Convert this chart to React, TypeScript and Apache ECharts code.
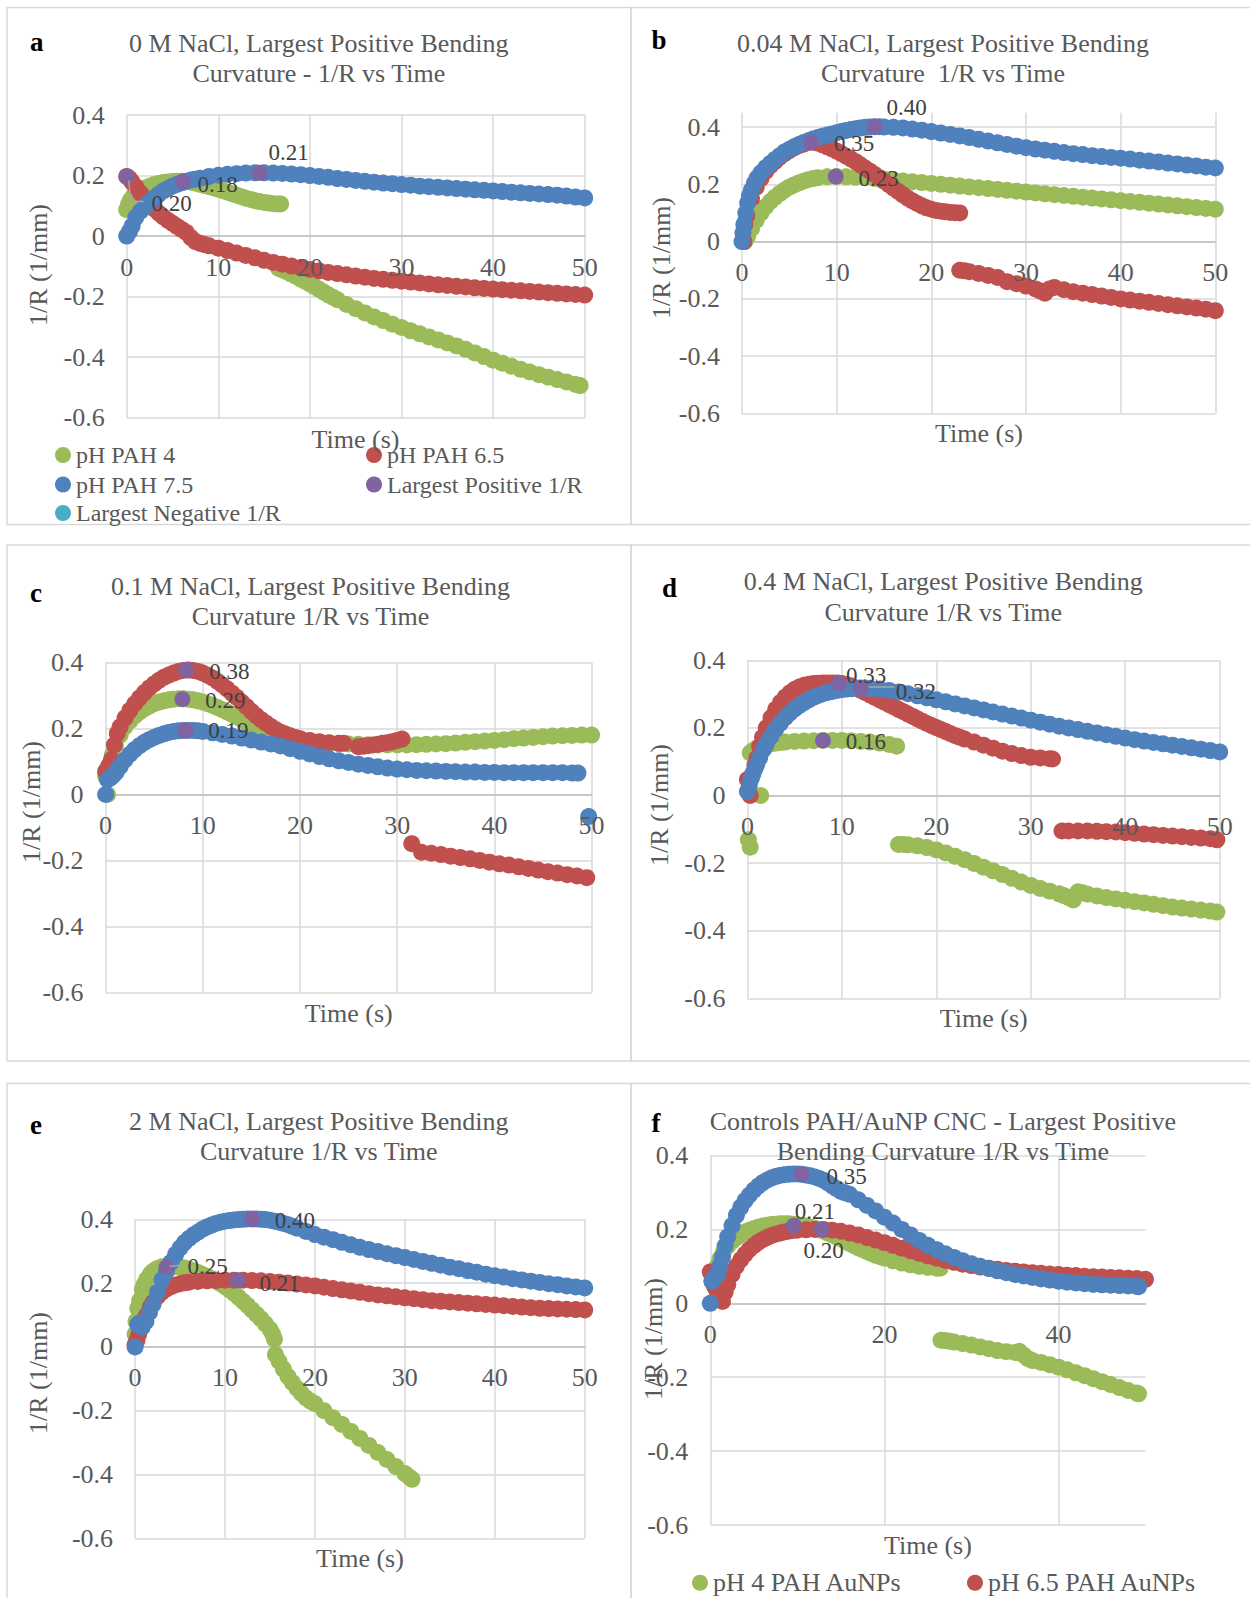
import { useEffect, useRef } from 'react';
import * as echarts from 'echarts';

const GREEN = '#9BBB59';
const RED = '#C0504D';
const BLUE = '#4F81BD';
const PURPLE = '#8064A2';
const TEAL = '#4BACC6';
const TXT = '#595959';
const FONT = '"Liberation Serif", "Times New Roman", serif';

// ---------- Panel a : 0 M NaCl ----------
const aPH4Rise = [[0,0.087],[0.2,0.105],[0.4,0.118],[0.7,0.13],[1,0.14],[1.5,0.15],[2,0.158],[2.5,0.165],[3,0.17],[3.5,0.174],[4,0.177],[4.5,0.179],[5,0.18],[5.5,0.181],[6,0.181],[6.5,0.18],[7,0.178],[7.5,0.175],[8,0.171],[8.5,0.167],[9,0.163],[9.5,0.159],[10,0.155],[10.5,0.15],[11,0.145],[11.5,0.14],[12,0.135],[12.5,0.13],[13,0.125],[13.5,0.121],[14,0.117],[14.5,0.114],[15,0.111],[15.5,0.109],[16,0.107],[16.5,0.106],[16.8,0.106]];
const aPH4Fall = [[16.6,-0.107],[17,-0.112],[17.5,-0.118],[18,-0.126],[18.5,-0.133],[19,-0.142],[19.5,-0.15],[20,-0.158],[20.5,-0.167],[21,-0.176],[21.5,-0.185],[22,-0.194],[22.5,-0.202],[23,-0.21],[24,-0.226],[25,-0.24],[26,-0.254],[27,-0.267],[28,-0.279],[29,-0.291],[30,-0.302],[31,-0.313],[32,-0.323],[33,-0.333],[34,-0.343],[35,-0.353],[36,-0.363],[37,-0.374],[38,-0.386],[39,-0.398],[40,-0.41],[41,-0.42],[42,-0.43],[43,-0.44],[44,-0.449],[45,-0.458],[46,-0.466],[47,-0.474],[48,-0.482],[49,-0.49],[49.5,-0.494]];
const aPH65 = [[0,0.197],[0.3,0.19],[0.6,0.178],[1,0.163],[1.5,0.142],[2,0.124],[2.5,0.106],[3,0.09],[3.5,0.076],[4,0.063],[4.5,0.052],[5,0.042],[5.5,0.032],[6,0.022],[6.5,0.012],[7,-0.005],[7.5,-0.018],[8,-0.024],[8.5,-0.028],[9,-0.032],[10,-0.04],[11,-0.048],[12,-0.056],[13,-0.064],[14,-0.072],[15,-0.08],[16,-0.087],[17,-0.093],[18,-0.099],[19,-0.105],[20,-0.11],[21,-0.115],[22,-0.12],[23,-0.124],[24,-0.128],[25,-0.132],[26,-0.136],[27,-0.14],[28,-0.143],[29,-0.146],[30,-0.149],[31,-0.152],[32,-0.155],[33,-0.158],[34,-0.161],[35,-0.163],[36,-0.166],[37,-0.168],[38,-0.171],[39,-0.173],[40,-0.175],[41,-0.177],[42,-0.179],[43,-0.181],[44,-0.183],[45,-0.185],[46,-0.187],[47,-0.189],[48,-0.191],[49,-0.193],[50,-0.195]];
const aPH75 = [[0,0],[0.3,0.015],[0.6,0.033],[1,0.062],[1.5,0.082],[2,0.098],[2.5,0.112],[3,0.126],[3.5,0.138],[4,0.149],[4.5,0.157],[5,0.165],[5.5,0.171],[6,0.176],[6.5,0.181],[7,0.185],[7.5,0.188],[8,0.191],[9,0.197],[10,0.201],[11,0.204],[12,0.206],[13,0.208],[14,0.209],[15,0.209],[16,0.208],[17,0.207],[18,0.205],[19,0.203],[20,0.2],[21,0.197],[22,0.194],[23,0.19],[24,0.187],[25,0.184],[26,0.181],[27,0.178],[28,0.175],[29,0.173],[30,0.17],[31,0.168],[32,0.165],[33,0.163],[34,0.161],[35,0.159],[36,0.157],[37,0.155],[38,0.153],[39,0.151],[40,0.149],[41,0.147],[42,0.145],[43,0.143],[44,0.141],[45,0.139],[46,0.137],[47,0.135],[48,0.132],[49,0.129],[50,0.126]];
const aMax = [[0,0.197],[6.1,0.18],[14.5,0.209]];

// ---------- Panel b : 0.04 M NaCl ----------
const bPH4 = [[0.3,0],[0.6,0.02],[1,0.045],[1.5,0.075],[2,0.1],[2.5,0.122],[3,0.14],[3.5,0.155],[4,0.168],[4.5,0.18],[5,0.19],[5.5,0.198],[6,0.205],[6.5,0.211],[7,0.216],[7.5,0.22],[8,0.223],[9,0.226],[10,0.227],[11,0.226],[12,0.225],[13,0.223],[14,0.22],[15,0.218],[16,0.215],[17,0.212],[18,0.209],[19,0.206],[20,0.203],[21,0.2],[22,0.197],[23,0.194],[24,0.191],[25,0.188],[26,0.185],[27,0.182],[28,0.179],[29,0.176],[30,0.173],[31,0.17],[32,0.167],[33,0.164],[34,0.161],[35,0.158],[36,0.155],[37,0.152],[38,0.149],[39,0.146],[40,0.143],[41,0.14],[42,0.137],[43,0.134],[44,0.131],[45,0.128],[46,0.125],[47,0.122],[48,0.119],[49,0.116],[50,0.113]];
const bPH65Rise = [[0.2,0],[0.3,0.06],[0.5,0.09],[1,0.15],[1.5,0.19],[2,0.22],[2.5,0.245],[3,0.265],[3.5,0.28],[4,0.295],[4.5,0.307],[5,0.318],[5.5,0.327],[6,0.335],[6.5,0.34],[7,0.346],[7.5,0.347],[8,0.344],[8.5,0.338],[9,0.331],[9.5,0.324],[10,0.316],[10.5,0.307],[11,0.298],[11.5,0.289],[12,0.279],[12.5,0.268],[13,0.257],[13.5,0.246],[14,0.235],[14.5,0.223],[15,0.211],[15.5,0.199],[16,0.187],[16.5,0.175],[17,0.163],[17.5,0.152],[18,0.142],[18.5,0.133],[19,0.125],[19.5,0.118],[20,0.113],[20.5,0.109],[21,0.106],[21.5,0.104],[22,0.102],[22.5,0.101],[23,0.1]];
const bPH65Fall = [[23,-0.1],[23.5,-0.102],[24,-0.105],[25,-0.111],[26,-0.118],[27,-0.125],[28,-0.14],[29,-0.147],[30,-0.155],[31,-0.165],[31.5,-0.172],[32,-0.18],[32.5,-0.165],[33,-0.16],[34,-0.168],[35,-0.175],[36,-0.18],[37,-0.185],[38,-0.19],[39,-0.195],[40,-0.2],[41,-0.204],[42,-0.208],[43,-0.212],[44,-0.216],[45,-0.22],[46,-0.224],[47,-0.228],[48,-0.232],[49,-0.236],[50,-0.241]];
const bPH75 = [[0,0],[0.1,0.03],[0.2,0.06],[0.4,0.1],[0.6,0.135],[0.8,0.16],[1,0.18],[1.3,0.203],[1.6,0.222],[2,0.24],[2.5,0.258],[3,0.273],[3.5,0.287],[4,0.3],[4.5,0.313],[5,0.322],[5.5,0.331],[6,0.339],[6.5,0.346],[7,0.352],[7.5,0.358],[8,0.363],[8.5,0.368],[9,0.372],[9.5,0.376],[10,0.38],[10.5,0.384],[11,0.388],[11.5,0.391],[12,0.394],[12.5,0.397],[13,0.399],[13.5,0.4],[14,0.401],[14.5,0.401],[15,0.4],[16,0.399],[17,0.397],[18,0.393],[19,0.389],[20,0.384],[21,0.379],[22,0.374],[23,0.369],[24,0.363],[25,0.357],[26,0.351],[27,0.345],[28,0.339],[29,0.333],[30,0.328],[31,0.323],[32,0.319],[33,0.315],[34,0.311],[35,0.307],[36,0.304],[37,0.3],[38,0.297],[39,0.294],[40,0.291],[41,0.288],[42,0.284],[43,0.281],[44,0.278],[45,0.274],[46,0.271],[47,0.267],[48,0.264],[49,0.26],[50,0.257]];
const bMax = [[7.3,0.347],[9.9,0.227],[14,0.401]];

// ---------- Panel c : 0.1 M NaCl ----------
const cPH4 = [[0,0.055],[0.2,0],[0.4,0.09],[0.7,0.12],[1,0.148],[1.5,0.18],[2,0.205],[2.5,0.223],[3,0.238],[3.5,0.25],[4,0.26],[4.5,0.268],[5,0.275],[5.5,0.28],[6,0.284],[6.5,0.287],[7,0.289],[7.5,0.29],[8,0.29],[8.5,0.289],[9,0.287],[9.5,0.284],[10,0.28],[10.5,0.275],[11,0.27],[11.5,0.264],[12,0.257],[12.5,0.25],[13,0.243],[13.5,0.235],[14,0.227],[14.5,0.219],[15,0.211],[15.5,0.204],[16,0.197],[16.5,0.19],[17,0.184],[17.5,0.179],[18,0.174],[19,0.166],[20,0.161],[21,0.158],[22,0.156],[23,0.155],[24,0.154],[25,0.153],[26,0.152],[27,0.151],[28,0.15],[29,0.15],[30,0.15],[31,0.15],[32,0.151],[33,0.152],[34,0.153],[35,0.154],[36,0.156],[37,0.158],[38,0.16],[39,0.162],[40,0.164],[41,0.166],[42,0.169],[43,0.171],[44,0.173],[45,0.175],[46,0.177],[47,0.178],[48,0.179],[49,0.18],[50,0.18]];
const cPH65Rise = [[0,0.07],[0.3,0.085],[0.6,0.105],[0.9,0.15],[1.2,0.185],[1.5,0.205],[2,0.232],[2.5,0.255],[3,0.275],[3.5,0.293],[4,0.309],[4.5,0.323],[5,0.335],[5.5,0.346],[6,0.355],[6.5,0.362],[7,0.368],[7.5,0.373],[8,0.376],[8.5,0.377],[9,0.376],[9.5,0.373],[10,0.368],[10.5,0.361],[11,0.353],[11.5,0.343],[12,0.332],[12.5,0.32],[13,0.307],[13.5,0.294],[14,0.28],[14.5,0.266],[15,0.252],[15.5,0.239],[16,0.227],[16.5,0.216],[17,0.206],[17.5,0.197],[18,0.189],[18.5,0.183],[19,0.178],[19.5,0.173],[20,0.169],[21,0.164],[22,0.16],[23,0.157],[24,0.155],[24.5,0.155]];
const cPH65Mid = [[26,0.145],[26.5,0.146],[27,0.148],[27.5,0.15],[28,0.152],[28.5,0.155],[29,0.157],[29.5,0.16],[30,0.164],[30.5,0.168]];
const cPH65Fall = [[31.5,-0.149],[32.5,-0.175],[33.5,-0.178],[34.5,-0.182],[35.5,-0.187],[36.5,-0.191],[37.5,-0.195],[38.5,-0.2],[39.5,-0.205],[40.5,-0.21],[41.5,-0.214],[42.5,-0.219],[43.5,-0.224],[44.5,-0.229],[45.5,-0.234],[46.5,-0.238],[47.5,-0.243],[48.5,-0.247],[49.5,-0.252]];
const cPH75 = [[0,0],[0.2,0.045],[0.5,0.05],[0.8,0.058],[1.1,0.068],[1.5,0.085],[2,0.105],[2.5,0.122],[3,0.136],[3.5,0.148],[4,0.158],[4.5,0.166],[5,0.173],[5.5,0.179],[6,0.184],[6.5,0.188],[7,0.191],[7.5,0.193],[8,0.194],[8.5,0.194],[9,0.194],[9.5,0.193],[10,0.191],[11,0.187],[12,0.182],[13,0.177],[14,0.171],[15,0.165],[16,0.159],[17,0.153],[18,0.147],[19,0.139],[20,0.131],[21,0.123],[22,0.115],[23,0.108],[24,0.102],[25,0.097],[26,0.092],[27,0.088],[28,0.084],[29,0.08],[30,0.077],[31,0.075],[32,0.073],[33,0.072],[34,0.071],[35,0.07],[36,0.069],[37,0.068],[38,0.068],[39,0.067],[40,0.067],[41,0.066],[42,0.066],[43,0.066],[44,0.066],[45,0.066],[46,0.066],[47,0.066],[48,0.065],[48.6,0.065],[49.7,-0.067]];
const cMax = [[8.3,0.377],[7.9,0.289],[8.2,0.194]];

// ---------- Panel d : 0.4 M NaCl ----------
const dPH4Rise = [[0.1,-0.131],[0.3,-0.153],[1.4,0],[0.3,0.126],[0.6,0.133],[1,0.14],[1.5,0.146],[2,0.15],[2.5,0.153],[3,0.155],[3.5,0.157],[4,0.158],[5,0.16],[6,0.161],[7,0.162],[8,0.163],[9,0.163],[10,0.163],[11,0.162],[12,0.16],[13,0.158],[14,0.155],[15,0.151],[15.8,0.146]];
const dPH4Fall = [[16,-0.145],[16.5,-0.145],[17,-0.146],[18,-0.149],[19,-0.154],[20,-0.161],[21,-0.17],[22,-0.18],[23,-0.19],[24,-0.201],[25,-0.212],[26,-0.223],[27,-0.234],[28,-0.245],[29,-0.256],[30,-0.266],[31,-0.275],[32,-0.283],[33,-0.291],[33.5,-0.296],[34,-0.302],[34.5,-0.309],[35,-0.285],[35.5,-0.288],[36,-0.292],[37,-0.297],[38,-0.302],[39,-0.306],[40,-0.31],[41,-0.314],[42,-0.318],[43,-0.322],[44,-0.326],[45,-0.33],[46,-0.333],[47,-0.336],[48,-0.339],[49,-0.342],[49.7,-0.345]];
const dPH65Rise = [[0,0.047],[0.3,0],[0.5,0.06],[0.8,0.09],[1,0.11],[1.3,0.145],[1.6,0.172],[2,0.2],[2.5,0.23],[3,0.255],[3.5,0.275],[4,0.291],[4.5,0.304],[5,0.314],[5.5,0.321],[6,0.326],[6.5,0.329],[7,0.331],[7.5,0.332],[8,0.333],[8.5,0.333],[9,0.333],[9.5,0.333],[10,0.331],[10.5,0.328],[11,0.324],[11.5,0.318],[12,0.311],[12.5,0.304],[13,0.297],[13.5,0.29],[14,0.283],[14.5,0.276],[15,0.269],[15.5,0.262],[16,0.255],[16.5,0.248],[17,0.241],[17.5,0.234],[18,0.227],[18.5,0.22],[19,0.213],[19.5,0.207],[20,0.201],[20.5,0.195],[21,0.189],[21.5,0.183],[22,0.177],[22.5,0.172],[23,0.167],[24,0.158],[25,0.149],[26,0.14],[27,0.131],[28,0.124],[29,0.118],[30,0.113],[31,0.111],[32,0.109],[32.3,0.108]];
const dPH65Fall = [[33.3,-0.105],[34,-0.105],[35,-0.105],[36,-0.105],[37,-0.106],[38,-0.107],[39,-0.108],[40,-0.11],[41,-0.112],[42,-0.114],[43,-0.116],[44,-0.118],[45,-0.12],[46,-0.122],[47,-0.124],[48,-0.126],[49,-0.128],[49.7,-0.131]];
const dPH75 = [[0,0.012],[0.2,0.03],[0.4,0.05],[0.6,0.066],[0.8,0.08],[1,0.093],[1.3,0.112],[1.7,0.136],[2,0.152],[2.5,0.175],[3,0.196],[3.5,0.214],[4,0.23],[4.5,0.244],[5,0.256],[5.5,0.266],[6,0.275],[6.5,0.283],[7,0.29],[7.5,0.296],[8,0.301],[8.5,0.305],[9,0.308],[9.5,0.311],[10,0.313],[10.5,0.315],[11,0.316],[11.5,0.317],[12,0.318],[12.5,0.318],[13,0.317],[14,0.315],[15,0.311],[16,0.306],[17,0.301],[18,0.295],[19,0.289],[20,0.283],[21,0.277],[22,0.271],[23,0.265],[24,0.259],[25,0.253],[26,0.247],[27,0.241],[28,0.235],[29,0.229],[30,0.223],[31,0.217],[32,0.211],[33,0.205],[34,0.2],[35,0.195],[36,0.19],[37,0.185],[38,0.18],[39,0.175],[40,0.17],[41,0.165],[42,0.161],[43,0.157],[44,0.153],[45,0.149],[46,0.145],[47,0.141],[48,0.137],[49,0.133],[50,0.129]];
const dMax = [[9.7,0.333],[12,0.318],[8,0.163]];

// ---------- Panel e : 2 M NaCl ----------
const ePH4 = [[0,0.04],[0.1,0.08],[0.3,0.12],[0.5,0.145],[0.8,0.18],[1,0.195],[1.3,0.212],[1.7,0.228],[2,0.237],[2.5,0.246],[3,0.251],[3.5,0.253],[4,0.253],[4.5,0.252],[5,0.25],[5.5,0.247],[6,0.243],[6.5,0.238],[7,0.233],[7.5,0.227],[8,0.221],[8.5,0.214],[9,0.206],[9.5,0.198],[10,0.189],[10.5,0.179],[11,0.168],[11.5,0.156],[12,0.143],[12.5,0.13],[13,0.116],[13.5,0.102],[14,0.088],[14.5,0.072],[15,0.055],[15.3,0.04],[15.5,0.024],[15.6,-0.024],[16,-0.045],[16.5,-0.07],[17,-0.093],[17.5,-0.112],[18,-0.13],[18.5,-0.146],[19,-0.16],[19.5,-0.17],[20,-0.178],[21,-0.2],[22,-0.222],[23,-0.243],[24,-0.265],[25,-0.287],[26,-0.309],[27,-0.331],[28,-0.353],[29,-0.375],[30,-0.397],[30.5,-0.408],[30.8,-0.415]];
const ePH65 = [[0,0.007],[0.2,0.02],[0.4,0.04],[0.7,0.065],[1,0.085],[1.3,0.1],[1.7,0.125],[2,0.14],[2.5,0.158],[3,0.172],[3.5,0.182],[4,0.189],[4.5,0.194],[5,0.198],[5.5,0.201],[6,0.203],[7,0.205],[8,0.207],[9,0.208],[10,0.209],[11,0.209],[12,0.209],[13,0.208],[14,0.207],[15,0.205],[16,0.203],[17,0.2],[18,0.197],[19,0.194],[20,0.191],[21,0.187],[22,0.183],[23,0.179],[24,0.175],[25,0.171],[26,0.167],[27,0.163],[28,0.16],[29,0.157],[30,0.154],[31,0.151],[32,0.148],[33,0.145],[34,0.143],[35,0.141],[36,0.139],[37,0.137],[38,0.135],[39,0.133],[40,0.131],[41,0.129],[42,0.127],[43,0.125],[44,0.123],[45,0.121],[46,0.12],[47,0.119],[48,0.118],[49,0.117],[50,0.116]];
const ePH75 = [[0,0],[0.3,0.07],[0.5,0.075],[0.8,0.062],[1.2,0.08],[1.6,0.108],[2,0.134],[2.5,0.172],[3,0.21],[3.5,0.237],[4,0.265],[4.5,0.29],[5,0.31],[5.5,0.327],[6,0.34],[6.5,0.351],[7,0.36],[7.5,0.369],[8,0.376],[8.5,0.382],[9,0.387],[9.5,0.391],[10,0.394],[10.5,0.396],[11,0.398],[11.5,0.399],[12,0.4],[12.5,0.401],[13,0.401],[13.5,0.401],[14,0.4],[14.5,0.399],[15,0.397],[15.5,0.394],[16,0.391],[16.5,0.387],[17,0.383],[17.5,0.378],[18,0.372],[19,0.362],[20,0.352],[21,0.344],[22,0.336],[23,0.328],[24,0.32],[25,0.312],[26,0.305],[27,0.299],[28,0.292],[29,0.286],[30,0.28],[31,0.274],[32,0.268],[33,0.262],[34,0.256],[35,0.25],[36,0.245],[37,0.239],[38,0.234],[39,0.228],[40,0.223],[41,0.219],[42,0.214],[43,0.21],[44,0.206],[45,0.202],[46,0.198],[47,0.195],[48,0.191],[49,0.188],[50,0.185]];
const eMax = [[3.5,0.25],[11.4,0.209],[13,0.401]];

// ---------- Panel f : controls ----------
const fPH4Rise = [[0.5,0.075],[0.8,0.1],[1.1,0.12],[1.5,0.138],[2,0.155],[2.5,0.168],[3,0.178],[3.5,0.186],[4,0.193],[4.5,0.198],[5,0.202],[5.5,0.206],[6,0.209],[6.5,0.211],[7,0.213],[7.5,0.214],[8,0.215],[8.5,0.215],[9,0.215],[9.5,0.214],[10,0.213],[10.5,0.211],[11,0.209],[11.5,0.206],[12,0.203],[12.5,0.199],[13,0.195],[13.5,0.19],[14,0.185],[14.5,0.18],[15,0.174],[15.5,0.168],[16,0.162],[16.5,0.156],[17,0.15],[17.5,0.145],[18,0.14],[18.5,0.135],[19,0.13],[19.5,0.126],[20,0.122],[21,0.115],[22,0.109],[23,0.104],[24,0.1],[25,0.097],[26,0.095],[26.4,0.095]];
const fPH4Fall = [[26.5,-0.1],[27,-0.101],[27.5,-0.103],[28,-0.105],[29,-0.109],[30,-0.113],[31,-0.118],[32,-0.123],[33,-0.128],[34,-0.131],[35,-0.133],[35.5,-0.13],[36,-0.14],[36.5,-0.15],[37,-0.155],[38,-0.16],[39,-0.166],[40,-0.173],[41,-0.18],[42,-0.188],[43,-0.196],[44,-0.204],[45,-0.212],[46,-0.22],[47,-0.228],[48,-0.236],[49,-0.243],[49.2,-0.245]];
const fPH65 = [[0,0.085],[0.2,0.06],[0.5,0.045],[0.8,0.03],[1.1,0.015],[1.4,0.005],[1.7,0.03],[2,0.05],[2.5,0.078],[3,0.1],[3.5,0.118],[4,0.133],[4.5,0.146],[5,0.156],[5.5,0.165],[6,0.172],[6.5,0.178],[7,0.183],[7.5,0.187],[8,0.19],[8.5,0.193],[9,0.195],[9.5,0.197],[10,0.198],[11,0.199],[12,0.2],[13,0.2],[14,0.198],[15,0.195],[16,0.19],[17,0.185],[18,0.178],[19,0.171],[20,0.164],[21,0.157],[22,0.149],[23,0.142],[24,0.135],[25,0.128],[26,0.122],[27,0.116],[28,0.111],[29,0.106],[30,0.102],[31,0.098],[32,0.095],[33,0.092],[34,0.089],[35,0.087],[36,0.085],[37,0.083],[38,0.081],[39,0.079],[40,0.078],[41,0.076],[42,0.075],[43,0.073],[44,0.072],[45,0.071],[46,0.07],[47,0.069],[48,0.068],[49,0.067],[50,0.065]];
const fPH75 = [[0,0],[0.2,0.06],[0.5,0.07],[0.8,0.075],[1.1,0.1],[1.4,0.125],[1.7,0.155],[2,0.18],[2.5,0.21],[3,0.238],[3.5,0.26],[4,0.278],[4.5,0.293],[5,0.306],[5.5,0.317],[6,0.326],[6.5,0.333],[7,0.339],[7.5,0.343],[8,0.346],[8.5,0.348],[9,0.349],[9.5,0.35],[10,0.35],[10.5,0.349],[11,0.347],[11.5,0.345],[12,0.342],[12.5,0.338],[13,0.333],[13.5,0.326],[14,0.318],[14.5,0.31],[15,0.303],[15.5,0.299],[16,0.295],[17,0.28],[18,0.265],[19,0.25],[20,0.233],[21,0.217],[22,0.2],[23,0.185],[24,0.17],[25,0.157],[26,0.145],[27,0.134],[28,0.124],[29,0.115],[30,0.107],[31,0.1],[32,0.094],[33,0.088],[34,0.083],[35,0.078],[36,0.074],[37,0.07],[38,0.066],[39,0.063],[40,0.06],[41,0.057],[42,0.055],[43,0.053],[44,0.051],[45,0.05],[46,0.049],[47,0.048],[48,0.047],[49,0.046],[49.2,0.045]];
const fMax = [[10.5,0.349],[9.6,0.21],[12.8,0.2]];

// ---------- Layout (positions / styles, not data) ----------
const PANELS = [
  { grid: { left: 126.7, top: 115, width: 458, height: 302.7 }, yMax: 0.4, xInt: 10 },
  { grid: { left: 742, top: 112.7, width: 473.3, height: 300.8 }, yMax: 0.45, xInt: 10 },
  { grid: { left: 105.6, top: 662.5, width: 486, height: 330 }, yMax: 0.4, xInt: 10 },
  { grid: { left: 747.4, top: 660.3, width: 472.3, height: 338 }, yMax: 0.4, xInt: 10 },
  { grid: { left: 135.1, top: 1219.3, width: 449.6, height: 319 }, yMax: 0.4, xInt: 10 },
  { grid: { left: 710.3, top: 1155.5, width: 435.2, height: 369.5 }, yMax: 0.4, xInt: 20 },
];
const Y_MIN = -0.6;
const LABEL_OFFSETS = [
  [[45, 27], [35, 3], [29, -20]],
  [[43, 1], [43, 2], [32, -19]],
  [[43, 1], [43, 1], [43, 0]],
  [[27, -7], [55, 3], [43, 1]],
  [[41, -1], [42, 3], [43, 2]],
  [[45, 2], [21, -14], [2, 21]],
];
// leader lines: [panel, point index, polyline relative to marker centre]
const LEADERS: [number, number, number[][]][] = [
  [0, 0, [[2, 4], [4, 25], [17, 25]]],
  [3, 1, [[8, -1], [34, -1]]],
  [4, 0, [[3, -1], [15, -2]]],
];

const MAIN_NAMES = ['pH PAH 4', 'pH PAH 6.5', 'pH PAH 7.5'];
const F_NAMES = ['pH 4 PAH AuNPs', 'pH 6.5 PAH AuNPs', 'pH 7.5 PAH AuNPs'];

const PANEL_DATA = [
  { names: MAIN_NAMES, green: [aPH4Rise, aPH4Fall], red: [aPH65], blue: aPH75, max: aMax },
  { names: MAIN_NAMES, green: [bPH4], red: [bPH65Rise, bPH65Fall], blue: bPH75, max: bMax },
  { names: MAIN_NAMES, green: [cPH4], red: [cPH65Rise, cPH65Mid, cPH65Fall], blue: cPH75, max: cMax },
  { names: MAIN_NAMES, green: [dPH4Rise, dPH4Fall], red: [dPH65Rise, dPH65Fall], blue: dPH75, max: dMax },
  { names: MAIN_NAMES, green: [ePH4], red: [ePH65], blue: ePH75, max: eMax },
  { names: F_NAMES, green: [fPH4Rise, fPH4Fall], red: [fPH65], blue: fPH75, max: fMax },
];

const TITLES = [
  { lines: ['0 M NaCl, Largest Positive Bending', 'Curvature - 1/R vs Time'], cx: 318.8, y1: 43.3, letter: 'a', lx: 36.7, ly: 42, xName: [355.5, 439.3], yName: [38, 265] },
  { lines: ['0.04 M NaCl, Largest Positive Bending', 'Curvature  1/R vs Time'], cx: 943, y1: 43.3, letter: 'b', lx: 659, ly: 40, xName: [979, 433.3], yName: [661, 258] },
  { lines: ['0.1 M NaCl, Largest Positive Bending', 'Curvature 1/R vs Time'], cx: 310.5, y1: 586, letter: 'c', lx: 36, ly: 592.7, xName: [348.7, 1013.3], yName: [31, 802] },
  { lines: ['0.4 M NaCl, Largest Positive Bending', 'Curvature 1/R vs Time'], cx: 943.3, y1: 581.7, letter: 'd', lx: 669.6, ly: 588.3, xName: [983.7, 1018.3], yName: [659, 805] },
  { lines: ['2 M NaCl, Largest Positive Bending', 'Curvature 1/R vs Time'], cx: 318.8, y1: 1121, letter: 'e', lx: 36, ly: 1125, xName: [359.9, 1558.3], yName: [38, 1373] },
  { lines: ['Controls PAH/AuNP CNC - Largest Positive', 'Bending Curvature 1/R vs Time'], cx: 942.9, y1: 1121, letter: 'f', lx: 656, ly: 1123.3, xName: [927.9, 1545], yName: [653, 1339] },
];

const LEGENDS = [
  { name: 'pH PAH 4', left: 55, top: 443, size: 24 },
  { name: 'pH PAH 6.5', left: 366, top: 443, size: 24 },
  { name: 'pH PAH 7.5', left: 55, top: 472.5, size: 24 },
  { name: 'Largest Positive 1/R', left: 366, top: 472.5, size: 24 },
  { name: 'Largest Negative 1/R', left: 55, top: 501, size: 24 },
  { name: 'pH 4 PAH AuNPs', left: 692, top: 1569.7, size: 26 },
  { name: 'pH 6.5 PAH AuNPs', left: 967, top: 1569.7, size: 26 },
];

const BOXES = [
  [7, 7.5, 624, 517], [631, 7.5, 640, 517],
  [7, 545, 624, 516], [631, 545, 640, 516],
  [7, 1083.5, 624, 530], [631, 1083.5, 640, 530],
];

function text(t: string, x: number, y: number, size: number, opts: any = {}) {
  return {
    type: 'text', x, y, rotation: opts.rotation || 0, silent: true, z: 10,
    style: {
      text: t, fill: opts.fill || TXT,
      font: `${opts.bold ? 'bold ' : ''}${size}px ${FONT}`,
      textAlign: 'center', textVerticalAlign: 'middle',
    },
  };
}

const xFormatter = (step: number) => (v: number) => (Math.abs(v % step) < 1e-9 ? String(v) : '');

function buildOption() {
  const grid: any[] = [];
  const xAxis: any[] = [];
  const xLabelAxes: any[] = [];
  const yAxis: any[] = [];
  const series: any[] = [];
  PANELS.forEach((p, i) => {
    grid.push({ ...p.grid, containLabel: false, outerBoundsMode: 'none' });
    // the horizontal axis sits on the zero line: shift it up from the bottom edge
    const zeroShift = (p.grid.height * (0 - Y_MIN)) / (p.yMax - Y_MIN);
    xAxis.push({
      type: 'value', gridIndex: i, min: 0, max: 50, interval: p.xInt,
      position: 'bottom', offset: -zeroShift,
      axisLine: { show: true, onZero: false, lineStyle: { color: '#BFBFBF', width: 1.5 } },
      axisTick: { show: false },
      axisLabel: { show: false },
      splitLine: { show: true, showMaxLine: p.xInt === 10, lineStyle: { color: '#D9D9D9', width: 1.5 } },
    });
    // a label-only twin axis drawn above the markers (as in the source chart)
    xLabelAxes.push({
      type: 'value', gridIndex: i, min: 0, max: 50, interval: p.xInt, z: 20,
      position: 'bottom', offset: -zeroShift,
      axisLine: { show: false, onZero: false }, axisTick: { show: false }, splitLine: { show: false },
      axisLabel: {
        fontFamily: FONT, fontSize: 26, color: TXT, margin: 17, lineHeight: 28,
        formatter: xFormatter(p.xInt),
      },
    });
    yAxis.push({
      type: 'value', gridIndex: i, min: Y_MIN, max: p.yMax, interval: 0.2,
      axisLine: { show: false }, axisTick: { show: false },
      axisLabel: {
        fontFamily: FONT, fontSize: 26, color: TXT, margin: 22,
        formatter: (v: number) => {
          const k = Math.round(v * 5);
          if (Math.abs(v * 5 - k) > 1e-6) return '';
          const r = k / 5;
          return r === 0 ? '0' : r.toFixed(1);
        },
      },
      splitLine: { show: true, showMaxLine: p.yMax === 0.4, lineStyle: { color: '#D9D9D9', width: 1.5 } },
    });
    const d = PANEL_DATA[i];
    const base = { type: 'scatter', xAxisIndex: i, yAxisIndex: i, symbol: 'circle', symbolSize: 17, silent: true, clip: false, emphasis: { disabled: true } };
    const green = ([] as number[][]).concat(...d.green);
    const red = ([] as number[][]).concat(...d.red);
    series.push({ ...base, name: d.names[0], data: green, itemStyle: { color: GREEN, opacity: 1 } });
    series.push({ ...base, name: d.names[1], data: red, itemStyle: { color: RED, opacity: 1 } });
    series.push({ ...base, name: d.names[2], data: d.blue, itemStyle: { color: BLUE, opacity: 1 } });
    const offs = LABEL_OFFSETS[i];
    series.push({
      ...base, id: `max-${i}`, name: 'Largest Positive 1/R', symbolSize: 16,
      data: d.max.map((v, j) => ({ value: v, label: { offset: offs[j] } })),
      itemStyle: { color: PURPLE, opacity: 1 },
      label: {
        show: true, position: 'inside', fontFamily: FONT, fontSize: 23, color: '#404040',
        formatter: (prm: any) => (prm.value[1] as number).toFixed(2),
      },
    });
    if (i === 0) {
      series.push({ ...base, name: 'Largest Negative 1/R', data: [], itemStyle: { color: TEAL, opacity: 1 } });
    }
  });

  const graphic: any[] = [];
  BOXES.forEach(([x, y, w, h]) => {
    graphic.push({ type: 'rect', silent: true, z: 0, shape: { x, y, width: w, height: h }, style: { fill: 'none', stroke: '#D9D9D9', lineWidth: 1.5 } });
  });
  TITLES.forEach((t) => {
    graphic.push(text(t.lines[0], t.cx, t.y1, 26));
    graphic.push(text(t.lines[1], t.cx, t.y1 + 30.5, 26));
    graphic.push(text(t.letter, t.lx, t.ly, 27, { bold: true, fill: '#000' }));
    graphic.push(text('Time (s)', t.xName[0], t.xName[1], 26));
    graphic.push(text('1/R (1/mm)', t.yName[0], t.yName[1], 26, { rotation: Math.PI / 2 }));
  });

  const legend = LEGENDS.map((l) => ({
    data: [l.name], left: l.left, top: l.top, padding: 0, itemGap: 0,
    itemWidth: 16, itemHeight: 16, icon: 'circle', selectedMode: false,
    textStyle: { fontFamily: FONT, fontSize: l.size, color: TXT, lineHeight: 16 },
  }));

  return {
    animation: false,
    backgroundColor: '#ffffff',
    grid, xAxis: [...xAxis, ...xLabelAxes], yAxis, series, graphic, legend,
  };
}

export default function App() {
  const ref = useRef<HTMLDivElement>(null);
  useEffect(() => {
    if (!ref.current) return;
    const chart = echarts.init(ref.current, null, { renderer: 'svg' });
    const option: any = buildOption();
    chart.setOption(option);
    // leader lines of the data labels, placed from the markers' pixel positions
    const leaders = LEADERS.map(([panel, idx, pts]) => {
      const px = chart.convertToPixel({ gridIndex: panel } as any, PANEL_DATA[panel].max[idx]) as number[];
      return {
        type: 'polyline', silent: true, z: 30,
        shape: { points: pts.map(([dx, dy]) => [px[0] + dx, px[1] + dy]) },
        style: { stroke: '#A6A6A6', lineWidth: 1.5, fill: 'none' },
      };
    });
    option.graphic = [...option.graphic, ...leaders];
    chart.setOption(option, true);
    return () => chart.dispose();
  }, []);
  return (
    <div
      ref={ref}
      style={{ position: 'absolute', left: 0, top: 0, width: 1250, height: 1598, background: '#fff' }}
    />
  );
}
